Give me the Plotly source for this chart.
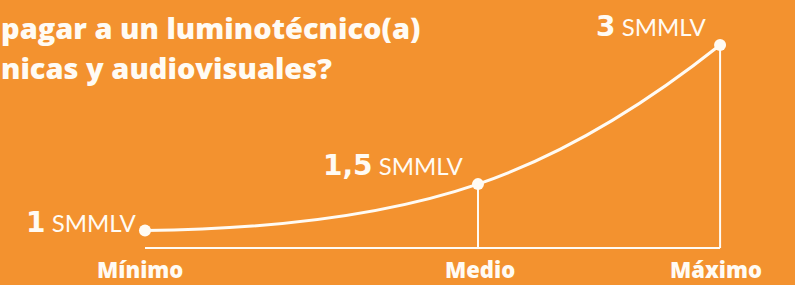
import plotly.graph_objects as go

# ---- data ----
categories = ["Mínimo", "Medio", "Máximo"]
values = [1, 1.5, 3]
value_labels = ["1", "1,5", "3"]
unit = "SMMLV"
title_lines = ["pagar a un luminotécnico(a)", "nicas y audiovisuales?"]

# ---- layout constants ----
x_pos = [0.0, 1.0, 1.727]          # horizontal placement of categories
bg = "#F3922F"
white = "#FFFBF4"
baseline_y = 0.8113

fig = go.Figure()
fig.add_trace(go.Scatter(
    x=x_pos, y=values, mode="lines",
    line=dict(color=white, width=3, shape="spline", smoothing=1.3),
    hoverinfo="skip", showlegend=False))
fig.add_trace(go.Scatter(
    x=x_pos, y=values, mode="markers",
    marker=dict(color=white, size=12),
    hoverinfo="skip", showlegend=False))

# baseline
fig.add_shape(type="line", x0=x_pos[0], x1=x_pos[-1], y0=baseline_y, y1=baseline_y,
              line=dict(color=white, width=2), layer="below")
# vertical drop lines (except minimum)
for xp, v in zip(x_pos[1:], values[1:]):
    fig.add_shape(type="line", x0=xp, x1=xp, y0=baseline_y, y1=v,
                  line=dict(color=white, width=2), layer="below")

shifts = [(-7, 8), (-12, 19), (-12, 18)]
for xp, v, lab, (dx, dy) in zip(x_pos, values, value_labels, shifts):
    fig.add_annotation(
        x=xp, y=v, xref="x", yref="y", showarrow=False,
        xanchor="right", yanchor="middle", xshift=dx, yshift=dy,
        text=(f"<span style='font-family:DejaVu Sans;font-size:28px;font-weight:bold'>{lab}</span>"
              f" {unit}"),
        font=dict(family="Lato", size=24, color=white))

label_dx = [-5, 2, -4]
for xp, cat, dx in zip(x_pos, categories, label_dx):
    fig.add_annotation(
        x=xp, y=0, xref="x", yref="paper", showarrow=False,
        xanchor="center", yanchor="bottom", yshift=-1, xshift=dx,
        text=cat,
        font=dict(family="Open Sans", size=22, color=white, weight=800))

for i, line in enumerate(title_lines):
    fig.add_annotation(
        x=0, y=1, xref="paper", yref="paper", showarrow=False,
        xanchor="left", yanchor="top", xshift=-1, yshift=-6 - 40 * i,
        text=line,
        font=dict(family="Open Sans", size=29, color=white, weight=800))

fig.update_layout(
    width=795, height=285,
    margin=dict(l=0, r=0, t=0, b=0),
    paper_bgcolor=bg, plot_bgcolor=bg,
    xaxis=dict(range=[-0.4354, 1.952], visible=False, fixedrange=True),
    yaxis=dict(range=[0.4124, 3.485], visible=False, fixedrange=True),
)

fig.write_html("out.html",
               config={"displayModeBar": False, "staticPlot": True},
               post_script="document.body.style.margin='0';document.body.style.overflow='hidden';")
